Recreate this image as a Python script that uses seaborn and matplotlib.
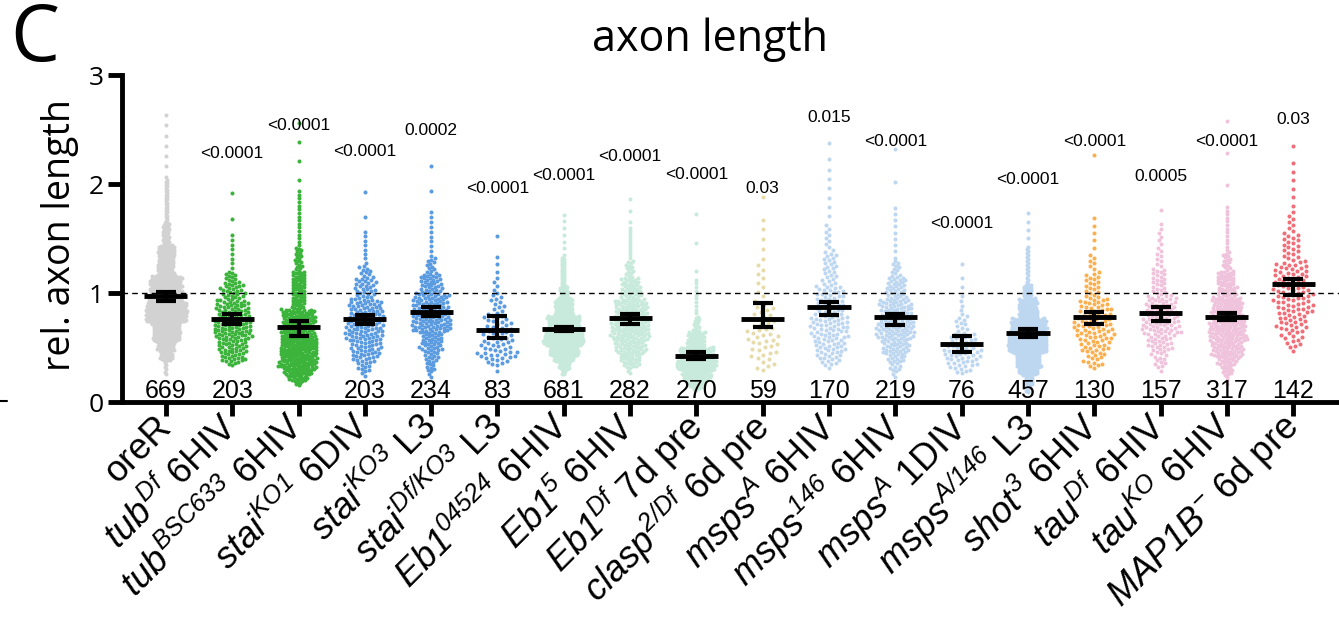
import numpy as np
import pandas as pd
import matplotlib
matplotlib.use("Agg")
import matplotlib.pyplot as plt
from matplotlib.lines import Line2D
import seaborn as sns

# genotypes / conditions, left to right
groups = [
    "oreR",
    r"$tub^{Df}$ 6HIV",
    r"$tub^{BSC633}$ 6HIV",
    r"$stai^{KO1}$ 6DIV",
    r"$stai^{KO3}$ L3",
    r"$stai^{Df/KO3}$ L3",
    r"$Eb1^{04524}$ 6HIV",
    r"$Eb1^{5}$ 6HIV",
    r"$Eb1^{Df}$ 7d pre",
    r"$clasp^{2/Df}$ 6d pre",
    r"$msps^{A}$ 6HIV",
    r"$msps^{146}$ 6HIV",
    r"$msps^{A}$ 1DIV",
    r"$msps^{A/146}$ L3",
    r"$shot^{3}$ 6HIV",
    r"$tau^{Df}$ 6HIV",
    r"$tau^{KO}$ 6HIV",
    r"$MAP1B^{-}$ 6d pre",
]

# cells per group (third count is hidden in the figure, estimated)
n_cells = [669, 203, 400, 203, 234, 83, 681, 282, 270, 59, 170, 219, 76, 457, 130, 157, 317, 142]
n_shown = ["669", "203", "", "203", "234", "83", "681", "282", "270", "59",
           "170", "219", "76", "457", "130", "157", "317", "142"]

q_levels = [0, 0.01, 0.05, 0.10, 0.25, 0.50, 0.75, 0.90, 0.95, 0.99, 1.0]
quantile_values = [
    [0.25, 0.38, 0.47, 0.56, 0.73, 0.92, 1.16, 1.44, 1.65, 2.05, 2.68],
    [0.33, 0.36, 0.40, 0.45, 0.58, 0.74, 0.93, 1.10, 1.20, 1.55, 2.04],
    [0.15, 0.19, 0.25, 0.30, 0.42, 0.62, 0.85, 1.20, 1.42, 1.95, 2.65],
    [0.23, 0.28, 0.36, 0.42, 0.56, 0.74, 0.94, 1.14, 1.25, 1.58, 2.04],
    [0.22, 0.28, 0.38, 0.47, 0.64, 0.81, 1.00, 1.18, 1.33, 1.75, 2.28],
    [0.22, 0.33, 0.36, 0.40, 0.47, 0.62, 0.80, 1.00, 1.15, 1.38, 1.73],
    [0.25, 0.30, 0.37, 0.42, 0.52, 0.64, 0.79, 0.95, 1.06, 1.33, 1.75],
    [0.25, 0.32, 0.38, 0.44, 0.57, 0.74, 0.94, 1.14, 1.30, 1.62, 1.91],
    [0.10, 0.13, 0.17, 0.21, 0.29, 0.39, 0.51, 0.65, 0.78, 1.15, 1.85],
    [0.27, 0.30, 0.34, 0.40, 0.52, 0.68, 0.92, 1.28, 1.55, 1.75, 2.63],
    [0.30, 0.34, 0.40, 0.46, 0.60, 0.80, 1.07, 1.38, 1.62, 2.20, 2.45],
    [0.22, 0.28, 0.37, 0.44, 0.58, 0.75, 0.95, 1.15, 1.30, 1.80, 2.48],
    [0.25, 0.27, 0.30, 0.33, 0.40, 0.50, 0.63, 0.80, 0.95, 1.20, 1.40],
    [0.08, 0.15, 0.25, 0.31, 0.45, 0.60, 0.77, 0.95, 1.08, 1.42, 1.77],
    [0.30, 0.33, 0.38, 0.45, 0.58, 0.75, 0.95, 1.18, 1.35, 1.70, 2.62],
    [0.27, 0.32, 0.40, 0.48, 0.62, 0.78, 0.98, 1.22, 1.40, 1.62, 1.83],
    [0.15, 0.25, 0.34, 0.41, 0.55, 0.74, 0.96, 1.20, 1.38, 1.80, 2.72],
    [0.45, 0.50, 0.58, 0.66, 0.82, 1.04, 1.28, 1.55, 1.75, 2.20, 2.43],
]

# mean and interval bars
means = [0.97, 0.76, 0.69, 0.76, 0.83, 0.66, 0.67, 0.77, 0.42, 0.76, 0.87, 0.78, 0.53, 0.63, 0.78, 0.82, 0.78, 1.08]
ci_lo = [0.93, 0.72, 0.61, 0.72, 0.79, 0.59, 0.65, 0.72, 0.39, 0.69, 0.80, 0.71, 0.46, 0.60, 0.72, 0.74, 0.75, 0.98]
ci_hi = [1.01, 0.81, 0.74, 0.80, 0.87, 0.79, 0.69, 0.81, 0.46, 0.91, 0.92, 0.81, 0.61, 0.67, 0.83, 0.87, 0.82, 1.13]

p_text = ["", "<0.0001", "<0.0001", "<0.0001", "0.0002", "<0.0001", "<0.0001", "<0.0001", "<0.0001",
          "0.03", "0.015", "<0.0001", "<0.0001", "<0.0001", "<0.0001", "0.0005", "<0.0001", "0.03"]
p_y = [0, 2.28, 2.54, 2.30, 2.49, 1.96, 2.08, 2.25, 2.09, 1.96, 2.61, 2.39, 1.64, 2.04, 2.39, 2.07, 2.39, 2.59]

colors = ["#d2d2d2", "#3cb43c", "#3cb43c", "#5b9be0", "#5b9be0", "#5b9be0",
          "#c8eadc", "#c8eadc", "#c8eadc", "#e6dcaa", "#bed7f0", "#bed7f0",
          "#bed7f0", "#bed7f0", "#fbb050", "#f0c3dc", "#f0c3dc", "#f06e78"]

# swarm layout: start size (pt), target half width (px); dots redrawn at dot_size
start_size = 2.0
target_halfwidth = 18.0
max_layout = 4.5
dot_size = 2.9

rows = []
for g, n, qv in zip(groups, n_cells, quantile_values):
    vals = np.interp((np.arange(n) + 0.5) / n, q_levels, qv)
    rows.append(pd.DataFrame({"group": g, "value": vals}))
df = pd.concat(rows, ignore_index=True)

sns.set_style("ticks", {"axes.edgecolor": "black", "xtick.color": "black",
                        "ytick.color": "black", "text.color": "black",
                        "axes.labelcolor": "black"})
plt.rcParams["font.family"] = ["Liberation Sans", "DejaVu Sans"]
plt.rcParams["mathtext.fontset"] = "custom"
plt.rcParams["mathtext.rm"] = "Liberation Sans:italic"
plt.rcParams["mathtext.it"] = "Liberation Sans:italic"
plt.rcParams["mathtext.bf"] = "Liberation Sans:bold"

fig = plt.figure(figsize=(13.39, 6.30), dpi=100)
ax = fig.add_axes([0.0911, 0.3619, 0.9089, 0.519])

swarms = []
for i, g in enumerate(groups):
    k = len(ax.collections)
    sns.swarmplot(data=df[df["group"] == g], x="group", y="value", order=groups,
                  color=colors[i], size=start_size, linewidth=0, ax=ax, zorder=1)
    swarms.append(ax.collections[k:])

ax.set_xlim(-0.662, 17.69)
ax.set_ylim(0, 3)

# GraphPad-like: squeeze dense swarms to a common width, then freeze and enlarge dots
px_per_cat = ax.transData.transform((1, 0))[0] - ax.transData.transform((0, 0))[0]
sizes = [start_size] * len(groups)
for _ in range(4):
    fig.canvas.draw()
    for i, colls in enumerate(swarms):
        offs = np.concatenate([np.asarray(c.get_offsets()) for c in colls])
        w = np.percentile(np.abs(offs[:, 0] - i), 98) * px_per_cat
        sizes[i] = min(sizes[i] * np.sqrt(target_halfwidth / max(w, 1.0)), max_layout)
        for c in colls:
            c.set_sizes([sizes[i] ** 2])
fig.canvas.draw()
for colls in swarms:
    for c in colls:
        if "draw" in c.__dict__:
            del c.draw
        c.set_sizes([dot_size ** 2])

ax.axhline(1, color="black", lw=1.0, ls=(0, (4, 3)), zorder=2)

x = np.arange(len(groups))
means_a = np.array(means)
ax.errorbar(x, means_a, yerr=[means_a - np.array(ci_lo), np.array(ci_hi) - means_a],
            fmt="none", ecolor="black", elinewidth=3, capsize=7.5, capthick=3, zorder=4)
ax.hlines(means_a, x - 0.325, x + 0.325, color="black", lw=3.5, zorder=4)

for i in range(len(groups)):
    ax.text(i, 0.035, n_shown[i], ha="center", va="baseline", fontsize=18, zorder=5)
    ax.text(i, p_y[i], p_text[i], ha="center", va="center", fontsize=12.5, zorder=5)

sns.despine(ax=ax)
ax.spines["left"].set_linewidth(3.5)
ax.spines["bottom"].set_linewidth(3.5)
ax.set_xlabel("")
ax.set_ylabel("")
ax.set_yticks([0, 1, 2, 3])
ax.set_yticklabels(["0", "1", "2", "3"], fontsize=19, family="Open Sans")
ax.tick_params(axis="both", width=3.5, length=10, direction="out")
ax.tick_params(axis="y", pad=3)
ax.tick_params(axis="x", pad=4)
ax.set_xticks(x)
ax.set_xticklabels(groups, rotation=45, ha="right", va="center",
                   rotation_mode="anchor", fontsize=26)

fig.text(60 / 1339, 1 - 235 / 630, "rel. axon length", rotation=90, fontsize=27,
         family="Open Sans", ha="center", va="center")
fig.text(0.530, 1 - 40 / 630, "axon length", fontsize=31, family="Open Sans",
         ha="center", va="center")
fig.text(10 / 1339, 1 - 40 / 630, "C", fontsize=56, family="Open Sans",
         ha="left", va="center")
fig.add_artist(Line2D([0, 7 / 1339], [1 - 401 / 630] * 2, color="black", lw=1.5))

fig.savefig("out.png", dpi=100)
